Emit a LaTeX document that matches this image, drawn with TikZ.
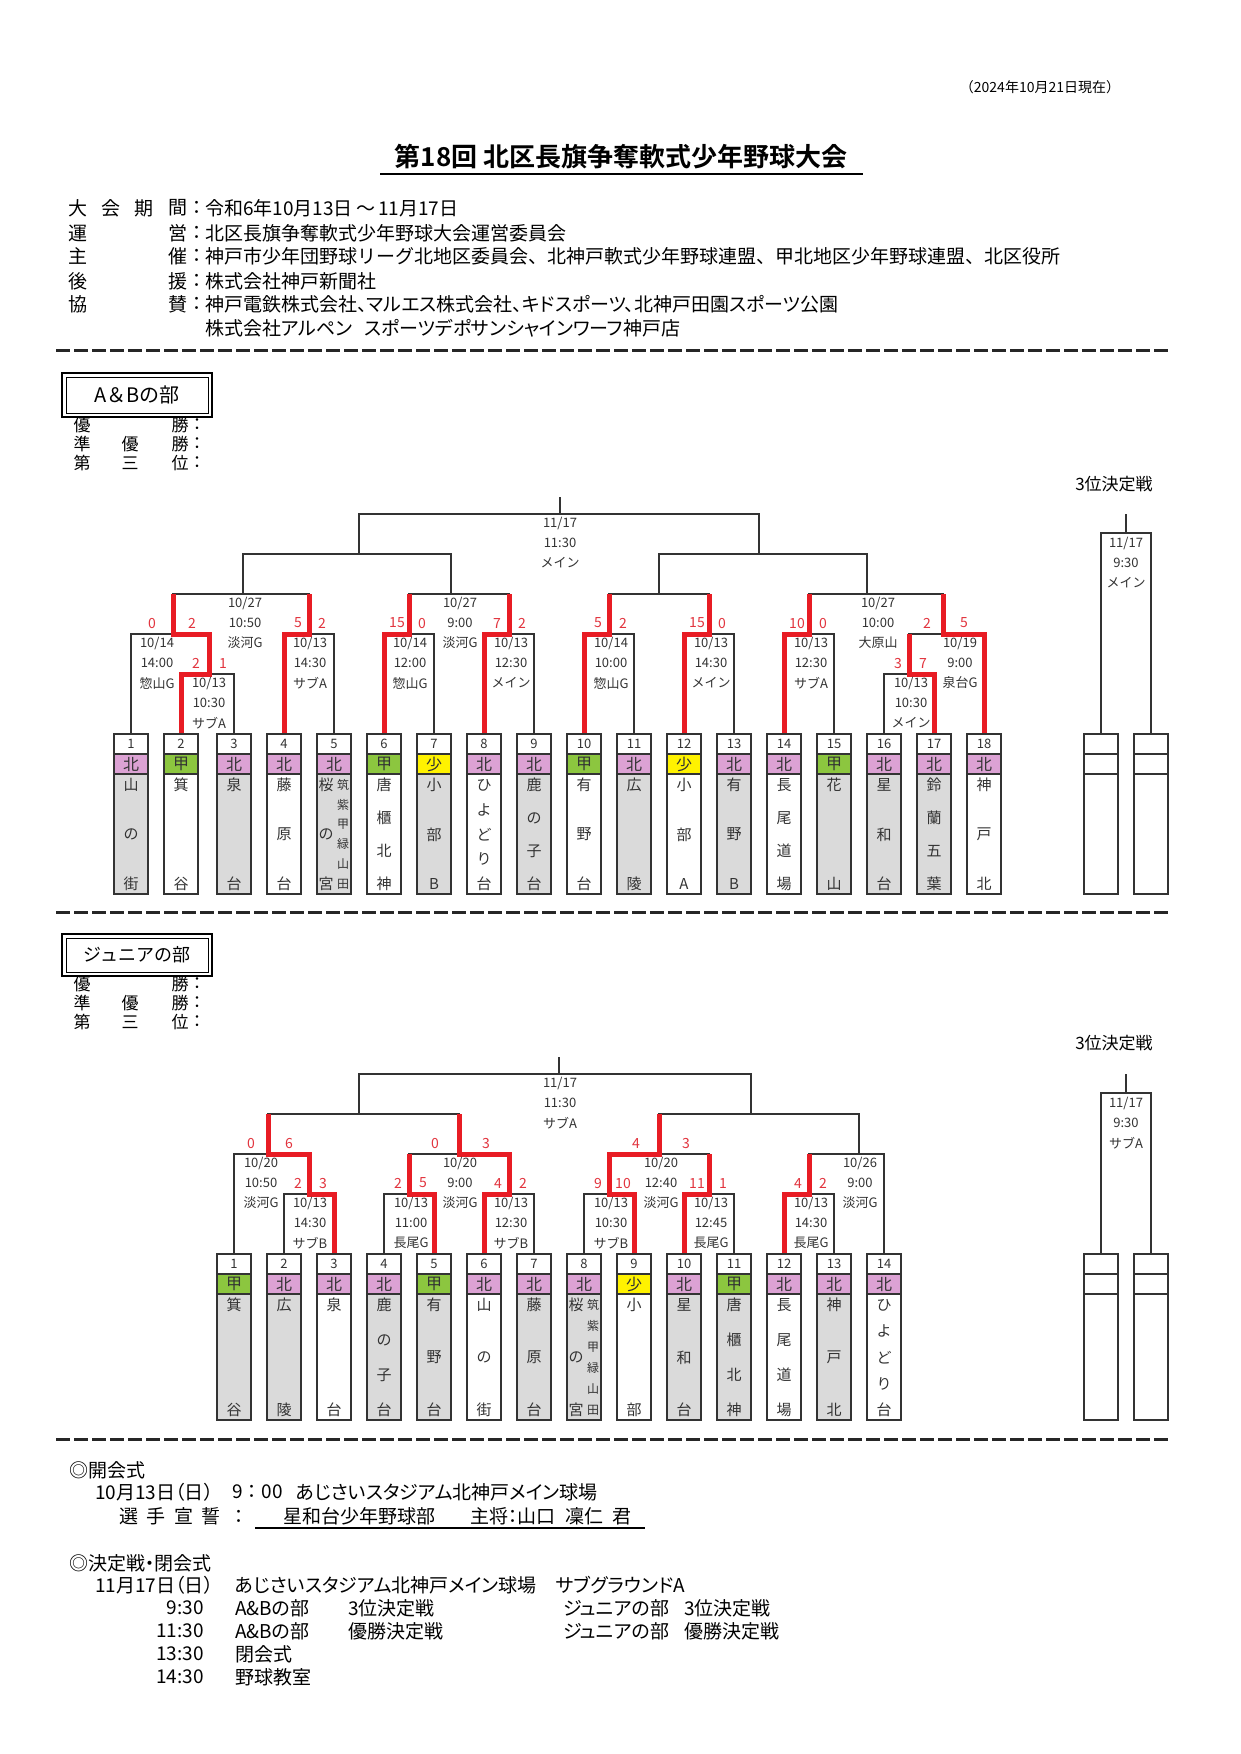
\documentclass[tikz,border=0pt]{standalone}
\usepackage{fontspec}
\setmainfont{Noto Sans CJK JP}
\newfontfamily\jpbold{Noto Sans CJK JP Bold}
\newfontfamily\pf[RawFeature=+palt]{Noto Sans CJK JP}
\newcommand\fsz[1]{\fontsize{#1}{#1}\selectfont}
\definecolor{tc}{HTML}{333333}
\definecolor{lc}{HTML}{333333}
\definecolor{pinkc}{RGB}{220,162,212}
\definecolor{greenc}{RGB}{140,198,63}
\definecolor{yellowc}{RGB}{255,242,0}
\definecolor{grayc}{RGB}{218,218,218}
\definecolor{redl}{RGB}{232,28,36}
\definecolor{redt}{RGB}{226,52,62}
\tikzset{
  ln/.style={line width=1.8pt, draw=lc, line join=miter},
  rd/.style={line width=5pt, draw=redl, line join=miter},
  bx/.style={line width=2.2pt, draw=lc},
  inf/.style={font=\fsz{13}, text=tc, inner sep=0pt},
  sc/.style={font=\fsz{14}, text=redt, inner sep=0pt},
  numf/.style={font=\fsz{13}, text=tc, inner sep=0pt},
  aff/.style={font=\fsz{16}, text=tc, inner sep=0pt},
  nm/.style={font=\fsz{15}, text=tc, inner sep=0pt},
  nms/.style={font=\fsz{12}, text=tc, inner sep=0pt},
  hd/.style={font=\fsz{19}, text=black, inner sep=0pt},
  hdw/.style={font=\fsz{19}, text=black, inner sep=0pt, anchor=west},
  hdp/.style={font=\pf\fsz{19}, text=black, inner sep=0pt, anchor=west},
  lab/.style={font=\fsz{17}, text=black, inner sep=0pt},
  sep/.style={line width=3pt, draw=black!85, dash pattern=on 14pt off 4pt},
}
\newcommand\tbox[7]{%
  \fill[#7] ({#1-17},{#2+40}) rectangle ({#1+17},#3);
  \fill[#5] ({#1-17},{#2+20}) rectangle ({#1+17},{#2+40});
  \fill[white] ({#1-17},#2) rectangle ({#1+17},{#2+20});
  \draw[bx] ({#1-17},#2) rectangle ({#1+17},#3);
  \draw[bx] ({#1-17},{#2+20}) -- ({#1+17},{#2+20});
  \draw[bx] ({#1-17},{#2+40}) -- ({#1+17},{#2+40});
  \node[numf] at (#1,{#2+10}) {#4};
  \node[aff] at (#1,{#2+30}) {#6};
}
\newcommand\vname[5]{%
  \foreach \ch [count=\i] in {#5} {
    \node[nm] at (#1,{#2+(\i-1)*(#3-#2)/(#4-1)}) {\ch};
  }
}
\newcommand\vnames[5]{%
  \foreach \ch [count=\i] in {#5} {
    \node[nms] at (#1,{#2+(\i-1)*(#3-#2)/(#4-1)}) {\ch};
  }
}
\newcommand\info[5]{%
  \node[inf] at (#1,#2) {#3};
  \node[inf] at (#1,{#2+20}) {#4};
  \node[inf] at (#1,{#2+40}) {#5};
}
\newcommand\sco[3]{\node[sc] at (#1,#2) {#3};}
\begin{document}
\begin{tikzpicture}[x=1pt,y=-1pt]
\useasboundingbox (0,0) rectangle (1240,1754);
\fill[white] (0,0) rectangle (1240,1754);

% ---------- header ----------
\node[font=\fsz{14}, inner sep=0pt] (asof) at (1040,87) {（2024年10月21日現在）};
\node[font=\fsz{26}\jpbold, inner sep=0pt] (title) at (621,157) {第18回 北区長旗争奪軟式少年野球大会};
\draw[line width=1.5pt] (380,174) -- (863,174);

\node[hd] at (78,208) {大};\node[hd] at (111,208) {会};\node[hd] at (144,208) {期};\node[hd] at (178,208) {間};
\node[hd] at (197,208) {：};\node[hdw] at (205,208) {令和6年10月13日\,～\,11月17日};
\node[hd] at (78,233) {運};\node[hd] at (178,233) {営};
\node[hd] at (197,233) {：};\node[hdw] at (205,233) {北区長旗争奪軟式少年野球大会運営委員会};
\node[hd] at (78,256) {主};\node[hd] at (178,256) {催};
\node[hd] at (197,256) {：};\node[hdw] at (205,256) {神戸市少年団野球リーグ北地区委員会、北神戸軟式少年野球連盟、甲北地区少年野球連盟、北区役所};
\node[hd] at (78,281) {後};\node[hd] at (178,281) {援};
\node[hd] at (197,281) {：};\node[hdw] at (205,281) {株式会社神戸新聞社};
\node[hd] at (78,304) {協};\node[hd] at (178,304) {賛};
\node[hd] at (197,304) {：};\node[hdp] at (205,304) {神戸電鉄株式会社、マルエス株式会社、キドスポーツ、北神戸田園スポーツ公園};
\node[hdp] at (205,328) {株式会社アルペン\hspace{0.6em}スポーツデポサンシャインワーフ神戸店};

\draw[sep] (56,350) -- (1168,350);

% ---------- A&B section header ----------
\draw[line width=2.5pt] (62,373) rectangle (212,417);
\draw[line width=0.8pt] (66,377) rectangle (208,413);
\node[font=\fsz{20}, inner sep=0pt] (abhead) at (137,395) {A＆Bの部};
\node[lab] at (82,425) {優};\node[lab] at (180,425) {勝};\node[lab] at (197,425) {：};
\node[lab] at (82,444) {準};\node[lab] at (130,444) {優};\node[lab] at (180,444) {勝};\node[lab] at (197,444) {：};
\node[lab] at (82,463) {第};\node[lab] at (130,463) {三};\node[lab] at (180,463) {位};\node[lab] at (197,463) {：};
\node[font=\fsz{17}, inner sep=0pt] at (1114,484) {3位決定戦};

% ---------- A&B bracket (black) ----------
\draw[ln] (560,497) -- (560,514);
\draw[ln] (359,554) -- (359,514) -- (759,514) -- (759,554);
\draw[ln] (243,594) -- (243,554) -- (451,554) -- (451,594);
\draw[ln] (659,594) -- (659,554) -- (867,554) -- (867,594);
\draw[ln] (173,634) -- (173,594) -- (309,594) -- (309,634);
\draw[ln] (409,634) -- (409,594) -- (509,594) -- (509,634);
\draw[ln] (609,634) -- (609,594) -- (709,594) -- (709,634);
\draw[ln] (809,634) -- (809,594) -- (943,594) -- (943,634);
\draw[ln] (131,734) -- (131,634) -- (209,634) -- (209,674);
\draw[ln] (181,734) -- (181,674) -- (234,674) -- (234,734);
\foreach \a in {284,384,484,584,684,784} {
  \draw[ln] (\a,734) -- (\a,634) -- ({\a+50},634) -- ({\a+50},734);
}
\draw[ln] (909,674) -- (909,634) -- (984,634) -- (984,734);
\draw[ln] (884,734) -- (884,674) -- (934,674) -- (934,734);
% 3rd place
\draw[ln] (1126,514) -- (1126,533);
\draw[ln] (1101,734) -- (1101,533) -- (1151,533) -- (1151,734);

% ---------- A&B winners (red) ----------
\draw[rd] (181,734) -- (181,674) -- (209,674) -- (209,634) -- (173,634) -- (173,594);
\draw[rd] (284,734) -- (284,634) -- (309,634) -- (309,594);
\draw[rd] (384,734) -- (384,634) -- (409,634) -- (409,594);
\draw[rd] (484,734) -- (484,634) -- (509,634) -- (509,594);
\draw[rd] (584,734) -- (584,634) -- (609,634) -- (609,594);
\draw[rd] (684,734) -- (684,634) -- (709,634) -- (709,594);
\draw[rd] (784,734) -- (784,634) -- (809,634) -- (809,594);
\draw[rd] (934,734) -- (934,674) -- (909,674) -- (909,634);
\draw[rd] (984,734) -- (984,634) -- (943,634) -- (943,594);

% scores
\sco{152}{623}{0}\sco{192}{623}{2}
\sco{196}{663}{2}\sco{223}{663}{1}
\sco{298}{623}{5}\sco{322}{623}{2}
\sco{397}{623}{15}\sco{422}{623}{0}
\sco{497}{623}{7}\sco{522}{623}{2}
\sco{598}{623}{5}\sco{623}{623}{2}
\sco{697}{623}{15}\sco{722}{623}{0}
\sco{797}{623}{10}\sco{823}{623}{0}
\sco{898}{663}{3}\sco{923}{663}{7}
\sco{927}{623}{2}\sco{964}{623}{5}

% match info
\info{560}{523}{11/17}{11:30}{メイン}
\info{245}{603}{10/27}{10:50}{淡河G}
\info{460}{603}{10/27}{9:00}{淡河G}
\info{878}{603}{10/27}{10:00}{大原山}
\info{157}{643}{10/14}{14:00}{惣山G}
\info{209}{683}{10/13}{10:30}{サブA}
\info{310}{643}{10/13}{14:30}{サブA}
\info{410}{643}{10/14}{12:00}{惣山G}
\info{511}{643}{10/13}{12:30}{メイン}
\info{611}{643}{10/14}{10:00}{惣山G}
\info{711}{643}{10/13}{14:30}{メイン}
\info{811}{643}{10/13}{12:30}{サブA}
\info{911}{683}{10/13}{10:30}{メイン}
\info{960}{643}{10/19}{9:00}{泉台G}
\info{1126}{543}{11/17}{9:30}{メイン}

% ---------- A&B team boxes ----------
\tbox{131}{734}{894}{1}{pinkc}{北}{grayc}\vname{131}{785}{884}{3}{山,の,街}
\tbox{181}{734}{894}{2}{greenc}{甲}{white}\vname{181}{785}{884}{2}{箕,谷}
\tbox{234}{734}{894}{3}{pinkc}{北}{grayc}\vname{234}{785}{884}{2}{泉,台}
\tbox{284}{734}{894}{4}{pinkc}{北}{white}\vname{284}{785}{884}{3}{藤,原,台}
\tbox{334}{734}{894}{5}{pinkc}{北}{grayc}\vname{326}{785}{884}{3}{桜,の,宮}\vnames{343}{785}{884}{6}{筑,紫,甲,緑,山,田}
\tbox{384}{734}{894}{6}{greenc}{甲}{white}\vname{384}{785}{884}{4}{唐,櫃,北,神}
\tbox{434}{734}{894}{7}{yellowc}{少}{grayc}\vname{434}{785}{884}{3}{小,部,B}
\tbox{484}{734}{894}{8}{pinkc}{北}{white}\vname{484}{785}{884}{5}{ひ,よ,ど,り,台}
\tbox{534}{734}{894}{9}{pinkc}{北}{grayc}\vname{534}{785}{884}{4}{鹿,の,子,台}
\tbox{584}{734}{894}{10}{greenc}{甲}{white}\vname{584}{785}{884}{3}{有,野,台}
\tbox{634}{734}{894}{11}{pinkc}{北}{grayc}\vname{634}{785}{884}{2}{広,陵}
\tbox{684}{734}{894}{12}{yellowc}{少}{white}\vname{684}{785}{884}{3}{小,部,A}
\tbox{734}{734}{894}{13}{pinkc}{北}{grayc}\vname{734}{785}{884}{3}{有,野,B}
\tbox{784}{734}{894}{14}{pinkc}{北}{white}\vname{784}{785}{884}{4}{長,尾,道,場}
\tbox{834}{734}{894}{15}{greenc}{甲}{grayc}\vname{834}{785}{884}{2}{花,山}
\tbox{884}{734}{894}{16}{pinkc}{北}{grayc}\vname{884}{785}{884}{3}{星,和,台}
\tbox{934}{734}{894}{17}{pinkc}{北}{grayc}\vname{934}{785}{884}{4}{鈴,蘭,五,葉}
\tbox{984}{734}{894}{18}{pinkc}{北}{white}\vname{984}{785}{884}{3}{神,戸,北}
\tbox{1101}{734}{894}{}{white}{}{white}
\tbox{1151}{734}{894}{}{white}{}{white}

\draw[sep] (56,912) -- (1168,912);

% ---------- Junior section header ----------
\draw[line width=2.5pt] (62,934) rectangle (212,976);
\draw[line width=0.8pt] (66,938) rectangle (208,972);
\node[font=\fsz{18}, inner sep=0pt] (jrhead) at (137,955) {ジュニアの部};
\node[lab] at (82,984) {優};\node[lab] at (180,984) {勝};\node[lab] at (197,984) {：};
\node[lab] at (82,1003) {準};\node[lab] at (130,1003) {優};\node[lab] at (180,1003) {勝};\node[lab] at (197,1003) {：};
\node[lab] at (82,1022) {第};\node[lab] at (130,1022) {三};\node[lab] at (180,1022) {位};\node[lab] at (197,1022) {：};
\node[font=\fsz{17}, inner sep=0pt] at (1114,1043) {3位決定戦};

% ---------- Junior bracket (black) ----------
\draw[ln] (559,1057) -- (559,1074);
\draw[ln] (359,1114) -- (359,1074) -- (751,1074) -- (751,1114);
\draw[ln] (268,1154) -- (268,1114) -- (459,1114) -- (459,1154);
\draw[ln] (659,1154) -- (659,1114) -- (859,1114) -- (859,1154);
\draw[ln] (234,1254) -- (234,1154) -- (309,1154) -- (309,1194);
\draw[ln] (409,1194) -- (409,1154) -- (509,1154) -- (509,1194);
\draw[ln] (609,1194) -- (609,1154) -- (709,1154) -- (709,1194);
\draw[ln] (809,1194) -- (809,1154) -- (884,1154) -- (884,1254);
\foreach \a in {284,384,484,584,684,784} {
  \draw[ln] (\a,1254) -- (\a,1194) -- ({\a+50},1194) -- ({\a+50},1254);
}
\draw[ln] (1126,1074) -- (1126,1093);
\draw[ln] (1101,1254) -- (1101,1093) -- (1151,1093) -- (1151,1254);

% ---------- Junior winners (red) ----------
\draw[rd] (334,1254) -- (334,1194) -- (309,1194) -- (309,1154) -- (268,1154) -- (268,1114);
\draw[rd] (434,1254) -- (434,1194) -- (409,1194) -- (409,1154);
\draw[rd] (484,1254) -- (484,1194) -- (509,1194) -- (509,1154) -- (459,1154) -- (459,1114);
\draw[rd] (634,1254) -- (634,1194) -- (609,1194) -- (609,1154) -- (659,1154) -- (659,1114);
\draw[rd] (684,1254) -- (684,1194) -- (709,1194) -- (709,1154);
\draw[rd] (784,1254) -- (784,1194) -- (809,1194) -- (809,1154);

\sco{251}{1143}{0}\sco{289}{1143}{6}
\sco{298}{1183}{2}\sco{323}{1183}{3}
\sco{435}{1143}{0}\sco{486}{1143}{3}
\sco{398}{1183}{2}\sco{423}{1183}{5}
\sco{498}{1183}{4}\sco{523}{1183}{2}
\sco{636}{1143}{4}\sco{686}{1143}{3}
\sco{598}{1183}{9}\sco{623}{1183}{10}
\sco{697}{1183}{11}\sco{723}{1183}{1}
\sco{798}{1183}{4}\sco{823}{1183}{2}

\info{560}{1083}{11/17}{11:30}{サブA}
\info{261}{1163}{10/20}{10:50}{淡河G}
\info{310}{1203}{10/13}{14:30}{サブB}
\info{460}{1163}{10/20}{9:00}{淡河G}
\info{411}{1203}{10/13}{11:00}{長尾G}
\info{511}{1203}{10/13}{12:30}{サブB}
\info{661}{1163}{10/20}{12:40}{淡河G}
\info{611}{1203}{10/13}{10:30}{サブB}
\info{711}{1203}{10/13}{12:45}{長尾G}
\info{811}{1203}{10/13}{14:30}{長尾G}
\info{860}{1163}{10/26}{9:00}{淡河G}
\info{1126}{1103}{11/17}{9:30}{サブA}

% ---------- Junior team boxes ----------
\tbox{234}{1254}{1420}{1}{greenc}{甲}{grayc}\vname{234}{1305}{1410}{2}{箕,谷}
\tbox{284}{1254}{1420}{2}{pinkc}{北}{grayc}\vname{284}{1305}{1410}{2}{広,陵}
\tbox{334}{1254}{1420}{3}{pinkc}{北}{white}\vname{334}{1305}{1410}{2}{泉,台}
\tbox{384}{1254}{1420}{4}{pinkc}{北}{grayc}\vname{384}{1305}{1410}{4}{鹿,の,子,台}
\tbox{434}{1254}{1420}{5}{greenc}{甲}{grayc}\vname{434}{1305}{1410}{3}{有,野,台}
\tbox{484}{1254}{1420}{6}{pinkc}{北}{white}\vname{484}{1305}{1410}{3}{山,の,街}
\tbox{534}{1254}{1420}{7}{pinkc}{北}{grayc}\vname{534}{1305}{1410}{3}{藤,原,台}
\tbox{584}{1254}{1420}{8}{pinkc}{北}{grayc}\vname{576}{1305}{1410}{3}{桜,の,宮}\vnames{593}{1305}{1410}{6}{筑,紫,甲,緑,山,田}
\tbox{634}{1254}{1420}{9}{yellowc}{少}{white}\vname{634}{1305}{1410}{2}{小,部}
\tbox{684}{1254}{1420}{10}{pinkc}{北}{grayc}\vname{684}{1305}{1410}{3}{星,和,台}
\tbox{734}{1254}{1420}{11}{greenc}{甲}{grayc}\vname{734}{1305}{1410}{4}{唐,櫃,北,神}
\tbox{784}{1254}{1420}{12}{pinkc}{北}{white}\vname{784}{1305}{1410}{4}{長,尾,道,場}
\tbox{834}{1254}{1420}{13}{pinkc}{北}{grayc}\vname{834}{1305}{1410}{3}{神,戸,北}
\tbox{884}{1254}{1420}{14}{pinkc}{北}{white}\vname{884}{1305}{1410}{5}{ひ,よ,ど,り,台}
\tbox{1101}{1254}{1420}{}{white}{}{white}
\tbox{1151}{1254}{1420}{}{white}{}{white}

\draw[sep] (56,1439) -- (1168,1439);

% ---------- footer ----------
\node[hdw] at (69,1470) {◎開会式};
\node[hdp] at (95,1492) {10月13日（日）};
\node[hdw] at (232,1492) {9：00};
\node[hdp] at (296,1492) {あじさいスタジアム北神戸メイン球場};
\node[hdw] at (119,1516) {選\hspace{0.45em}手\hspace{0.45em}宣\hspace{0.45em}誓\hspace{0.45em}：};
\node[hdw] at (283,1516) {星和台少年野球部};
\node[hdp] at (470,1516) {主将：山口\hspace{0.5em}凜仁\hspace{0.5em}君};
\draw[line width=1.3pt] (255,1528) -- (645,1528);

\node[hdp] at (69,1563) {◎決定戦・閉会式};
\node[hdp] at (95,1585) {11月17日（日）};
\node[hdp] at (235,1585) {あじさいスタジアム北神戸メイン球場};
\node[hdp] at (556,1585) {サブグラウンドA};
\node[hd, anchor=east] at (204,1608) {9:30};
\node[hdp] at (235,1608) {A\&Bの部};
\node[hdp] at (348,1608) {3位決定戦};
\node[hdp] at (563,1608) {ジュニアの部};
\node[hdp] at (684,1608) {3位決定戦};
\node[hd, anchor=east] at (204,1631) {11:30};
\node[hdp] at (235,1631) {A\&Bの部};
\node[hdp] at (348,1631) {優勝決定戦};
\node[hdp] at (563,1631) {ジュニアの部};
\node[hdp] at (684,1631) {優勝決定戦};
\node[hd, anchor=east] at (204,1654) {13:30};
\node[hdp] at (235,1654) {閉会式};
\node[hd, anchor=east] at (204,1677) {14:30};
\node[hdp] at (235,1677) {野球教室};
\end{tikzpicture}
\end{document}
